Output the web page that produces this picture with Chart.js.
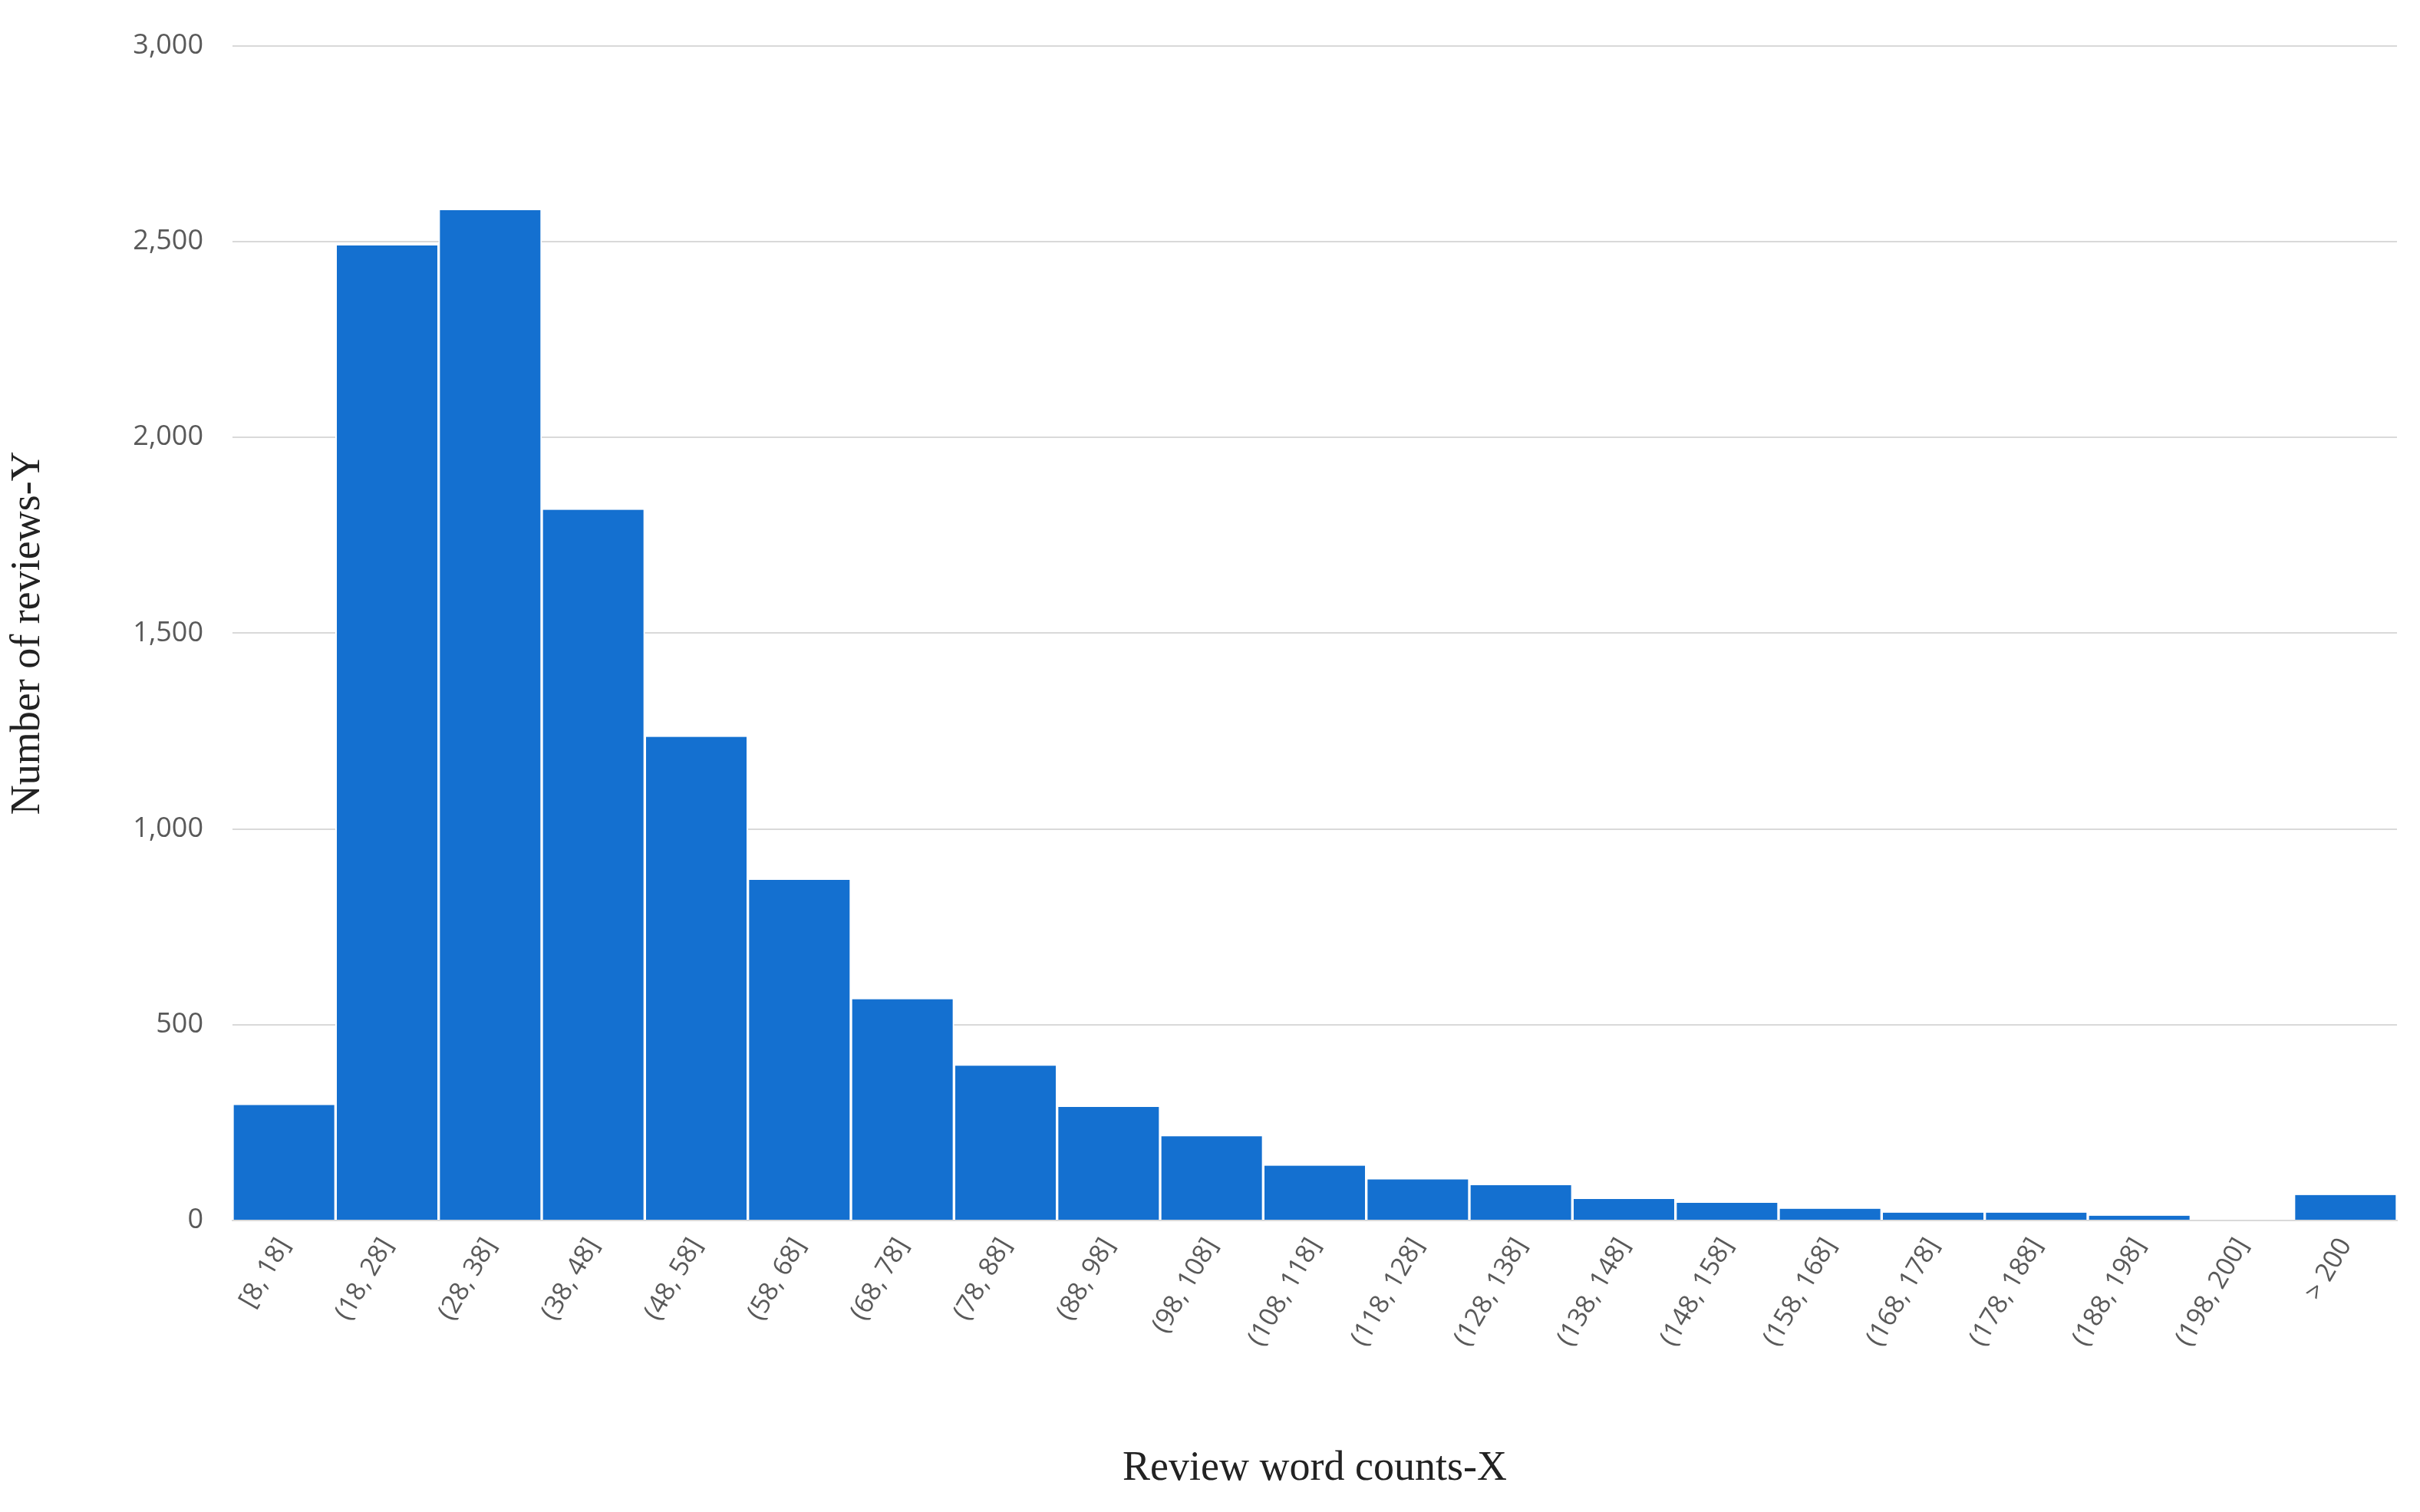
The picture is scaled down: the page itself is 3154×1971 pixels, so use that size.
<!DOCTYPE html>
<html><head><meta charset="utf-8">
<script src="https://cdn.jsdelivr.net/npm/chart.js@4"></script>
<style>html,body{margin:0;padding:0;background:#fff}#w{width:3154px;height:1971px}</style>
</head><body><div id="w"><canvas id="c"></canvas></div>
<script>
const categories = ["[8, 18]","(18, 28]","(28, 38]","(38, 48]","(48, 58]","(58, 68]","(68, 78]","(78, 88]","(88, 98]","(98, 108]","(108, 118]","(118, 128]","(128, 138]","(138, 148]","(148, 158]","(158, 168]","(168, 178]","(178, 188]","(188, 198]","(198, 200]","> 200"];
const reviewCounts = [295,2490,2580,1815,1235,870,565,395,290,215,140,105,90,55,45,30,20,20,12,0,65];
const yTicks = [0,500,1000,1500,2000,2500,3000];

new Chart(document.getElementById('c'), {
  type: 'bar',
  data: { labels: categories, datasets: [{ data: reviewCounts, backgroundColor: '#1470d0', borderColor: '#ffffff', borderWidth: {left:2,right:2}, borderSkipped: false, categoryPercentage: 1, barPercentage: 1 }] },
  options: {
    responsive: true, maintainAspectRatio: false, animation: false, devicePixelRatio: 1,
    layout: { padding: { top: 45, right: 30, left: 0, bottom: 20 } },
    plugins: { legend: { display: false }, tooltip: { enabled: false } },
    scales: {
      x: {
        grid: { display: false },
        border: { color: '#d9d9d9', width: 2 },
        ticks: { color: '#595959', font: { family: 'Open Sans', size: 34 }, minRotation: 60, maxRotation: 60, padding: 8 },
        title: { display: true, text: 'Review word counts-X', color: '#222', font: { family: 'Liberation Serif', size: 54 }, padding: { top: 20 } },
        afterFit: s => { s.height = 360; }
      },
      y: {
        min: 0, max: 3000,
        afterBuildTicks: s => { s.ticks = yTicks.map(v => ({ value: v })); },
        grid: { color: '#d9d9d9', lineWidth: 2, drawTicks: false },
        border: { display: false },
        ticks: { color: '#595959', font: { family: 'Open Sans', size: 36 }, padding: 38 },
        title: { display: true, text: 'Number of reviews-Y', color: '#222', font: { family: 'Liberation Serif', size: 54 }, padding: { bottom: 50 } },
        afterFit: s => { s.width = 303; }
      }
    }
  }
});
</script></body></html>
